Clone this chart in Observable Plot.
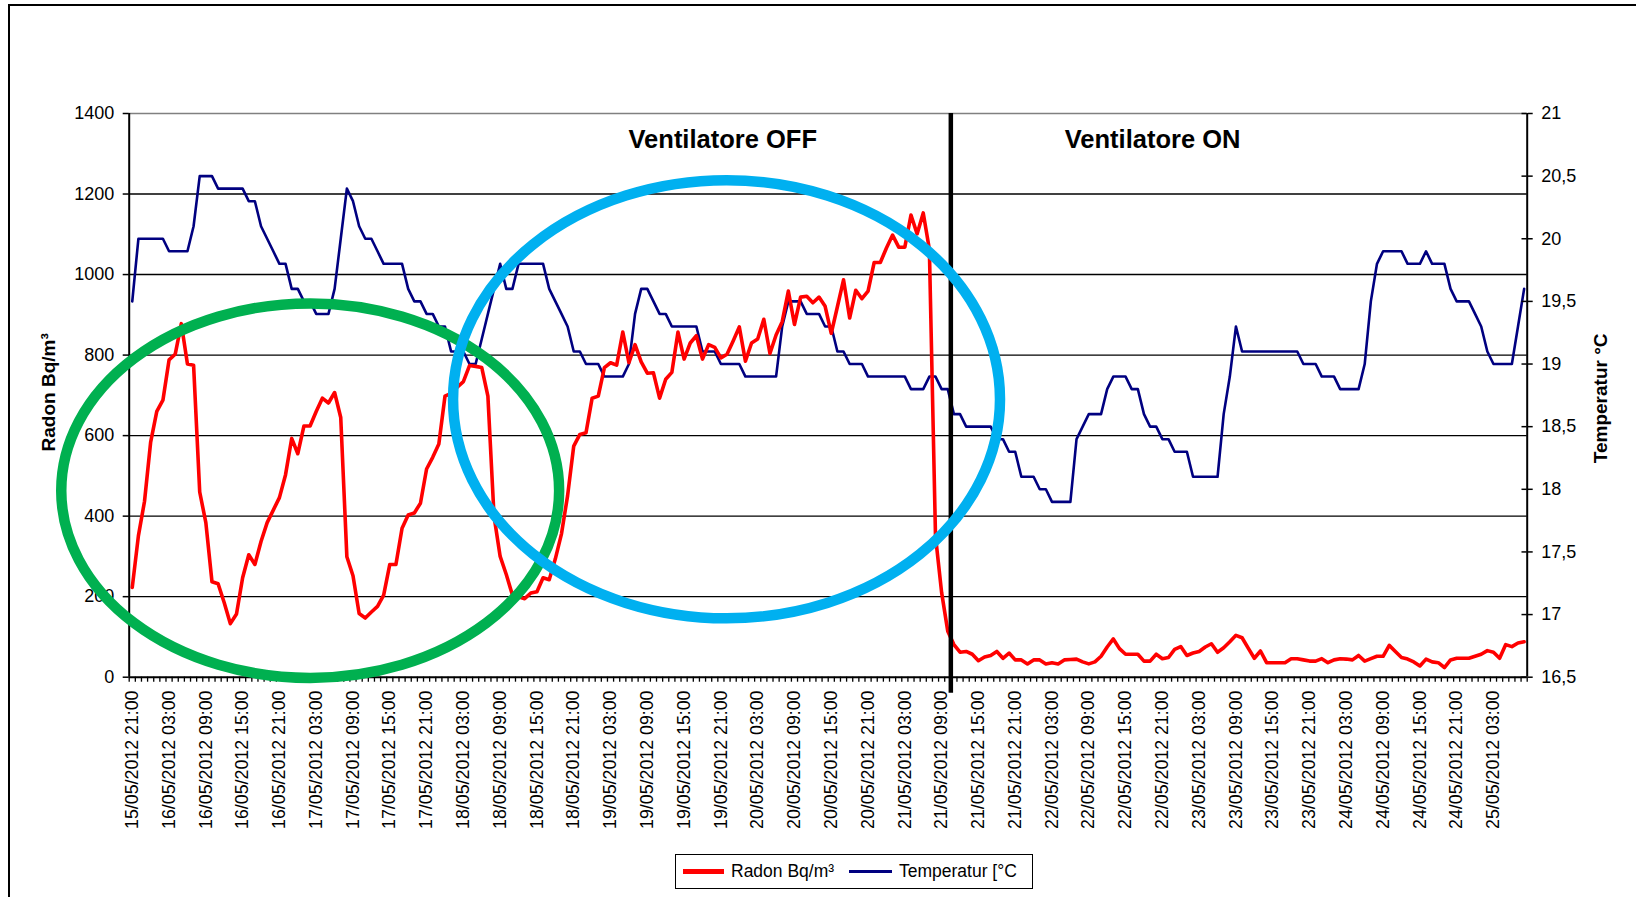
<!DOCTYPE html>
<html>
<head>
<meta charset="utf-8">
<script src="https://cdn.jsdelivr.net/npm/d3@7"></script>
<script src="https://cdn.jsdelivr.net/npm/@observablehq/plot@0.6"></script>
<style>
  html, body { margin: 0; padding: 0; background: #fff; overflow: hidden; }
  #wrap { position: relative; width: 1636px; height: 897px; overflow: hidden; font-family: "Liberation Sans", Arial, sans-serif; }
  #frame { position: absolute; left: 8px; top: 4px; width: 2000px; height: 2000px; border: 2px solid #000; }
  #chart { position: absolute; left: 0; top: 0; }
  #legend { position: absolute; left: 675px; top: 854px; width: 356px; height: 33px; border: 1.5px solid #000; background: #fff; font-size: 17.5px; }
  #legend .sw { position: absolute; }
  #legend .lb { position: absolute; top: 50%; transform: translateY(-52%); white-space: nowrap; color: #000; }
</style>
</head>
<body>
<div id="wrap">
  <div id="frame"></div>
  <div id="chart"></div>
  <div id="legend"></div>
</div>
<script>
// ---------- data (hourly readings, first = 15/05/2012 21:00) ----------
const radon = [
  223,351,437,584,660,688,788,802,878,778,
  775,460,384,237,232,185,133,157,247,304,
  280,337,384,415,446,503,593,555,624,624,
  660,693,681,707,645,299,252,158,147,162,
  176,204,280,280,370,403,408,432,517,546,
  579,698,705,720,734,774,772,769,698,400,
  300,255,204,200,195,209,212,247,242,294,
  356,451,574,603,607,693,698,769,781,775,
  857,781,826,783,755,756,693,740,757,857,
  790,830,848,790,826,819,793,802,835,870,
  785,830,840,889,804,850,883,959,876,944,
  946,930,944,921,854,920,987,892,961,940,
  959,1030,1030,1066,1098,1068,1068,1148,1101,1153,
  1063,350,210,114,81,62,64,57,41,50,
  54,64,47,60,43,43,33,43,43,33,
  36,33,43,44,45,38,33,38,52,75,
  95,71,57,57,57,40,40,57,46,49,
  69,76,54,60,64,75,83,62,73,88,
  104,98,72,47,65,36,36,36,36,46,
  46,43,40,40,46,36,43,46,45,43,
  54,40,46,52,52,79,64,49,45,38,
  28,45,38,36,24,43,47,47,47,52,
  57,66,62,47,81,76,85,88
];
const temperature = [
  19.5,20.0,20.0,20.0,20.0,20.0,19.9,19.9,19.9,19.9,
  20.1,20.5,20.5,20.5,20.4,20.4,20.4,20.4,20.4,20.3,
  20.3,20.1,20.0,19.9,19.8,19.8,19.6,19.6,19.5,19.5,
  19.4,19.4,19.4,19.6,20.0,20.4,20.3,20.1,20.0,20.0,
  19.9,19.8,19.8,19.8,19.8,19.6,19.5,19.5,19.4,19.4,
  19.3,19.3,19.1,19.1,19.1,19.0,19.0,19.2,19.4,19.6,
  19.8,19.6,19.6,19.8,19.8,19.8,19.8,19.8,19.6,19.5,
  19.4,19.3,19.1,19.1,19.0,19.0,19.0,18.9,18.9,18.9,
  18.9,19.0,19.4,19.6,19.6,19.5,19.4,19.4,19.3,19.3,
  19.3,19.3,19.3,19.1,19.1,19.1,19.0,19.0,19.0,19.0,
  18.9,18.9,18.9,18.9,18.9,18.9,19.3,19.5,19.5,19.5,
  19.4,19.4,19.4,19.3,19.3,19.1,19.1,19.0,19.0,19.0,
  18.9,18.9,18.9,18.9,18.9,18.9,18.9,18.8,18.8,18.8,
  18.9,18.9,18.8,18.8,18.6,18.6,18.5,18.5,18.5,18.5,
  18.5,18.4,18.4,18.3,18.3,18.1,18.1,18.1,18.0,18.0,
  17.9,17.9,17.9,17.9,18.4,18.5,18.6,18.6,18.6,18.8,
  18.9,18.9,18.9,18.8,18.8,18.6,18.5,18.5,18.4,18.4,
  18.3,18.3,18.3,18.1,18.1,18.1,18.1,18.1,18.6,18.9,
  19.3,19.1,19.1,19.1,19.1,19.1,19.1,19.1,19.1,19.1,
  19.1,19.0,19.0,19.0,18.9,18.9,18.9,18.8,18.8,18.8,
  18.8,19.0,19.5,19.8,19.9,19.9,19.9,19.9,19.8,19.8,
  19.8,19.9,19.8,19.8,19.8,19.6,19.5,19.5,19.5,19.4,
  19.3,19.1,19.0,19.0,19.0,19.0,19.3,19.6
];
const seriesNames = ["Radon Bq/m³", "Temperatur [°C"];
const axisTitles = ["Radon Bq/m³", "Temperatur °C"];
const labelEvery = 6; // one label every 6 hourly categories
const tickLabels = [
  "15/05/2012 21:00",
  "16/05/2012 03:00","16/05/2012 09:00","16/05/2012 15:00","16/05/2012 21:00",
  "17/05/2012 03:00","17/05/2012 09:00","17/05/2012 15:00","17/05/2012 21:00",
  "18/05/2012 03:00","18/05/2012 09:00","18/05/2012 15:00","18/05/2012 21:00",
  "19/05/2012 03:00","19/05/2012 09:00","19/05/2012 15:00","19/05/2012 21:00",
  "20/05/2012 03:00","20/05/2012 09:00","20/05/2012 15:00","20/05/2012 21:00",
  "21/05/2012 03:00","21/05/2012 09:00","21/05/2012 15:00","21/05/2012 21:00",
  "22/05/2012 03:00","22/05/2012 09:00","22/05/2012 15:00","22/05/2012 21:00",
  "23/05/2012 03:00","23/05/2012 09:00","23/05/2012 15:00","23/05/2012 21:00",
  "24/05/2012 03:00","24/05/2012 09:00","24/05/2012 15:00","24/05/2012 21:00",
  "25/05/2012 03:00"
];
const radonTicks = [0, 200, 400, 600, 800, 1000, 1200, 1400];
const tempTicks = [16.5, 17, 17.5, 18, 18.5, 19, 19.5, 20, 20.5, 21];
const tempTickLabels = ["16,5","17","17,5","18","18,5","19","19,5","20","20,5","21"];
const fanSwitch = [133.5]; // between 21/05 10:00 and 11:00
const phaseLabels = [
  {label: "Ventilatore OFF", x: 96.3, y: 1335},
  {label: "Ventilatore ON", x: 166.4, y: 1335}
];
const ellipses = [
  {name: "green", cx: 29.1, cy: 462, rx: 40.6, ry: 465},
  {name: "cyan", cx: 97.0, cy: 689, rx: 44.6, ry: 544}
];
const ellipseColors = {green: "#00b050", cyan: "#00b0f0"};

// ---------- chart ----------
const N = radon.length;
const rows = radon.map((r, i) => ({i, radon: r, temp: temperature[i]}));
const tMin = tempTicks[0], tMax = tempTicks[tempTicks.length - 1];
const rMax = radonTicks[radonTicks.length - 1];
const toLeft = t => (t - tMin) / (tMax - tMin) * rMax;
const boundaries = d3.range(N + 1).map(k => k - 0.5);
const font = '"Liberation Sans", Arial, sans-serif';

const chart = Plot.plot({
  width: 1636,
  height: 850,
  marginLeft: 128.7,
  marginRight: 109.3,
  marginTop: 113,
  marginBottom: 173.3,
  x: {domain: [-0.5, N - 0.5], axis: null},
  y: {domain: [0, rMax], axis: null},
  style: {fontFamily: font, background: "transparent", overflow: "visible", color: "#000"},
  marks: [
    Plot.ruleY(radonTicks.filter(v => v > 0 && v < rMax), {stroke: "#000", strokeWidth: 1.4}),
    Plot.ruleY([rMax], {stroke: "#808080", strokeWidth: 1.6}),
    Plot.line(rows, {x: "i", y: d => toLeft(d.temp), stroke: "#000080", strokeWidth: 2.6}),
    Plot.line(rows, {x: "i", y: "radon", stroke: "#ff0000", strokeWidth: 3.6}),
    Plot.ruleX([-0.5], {stroke: "#000", strokeWidth: 2}),
    Plot.ruleX([N - 0.5], {stroke: "#000", strokeWidth: 2}),
    Plot.ruleY([0], {stroke: "#000", strokeWidth: 2}),
    Plot.ruleX(fanSwitch, {y1: -40, y2: rMax, stroke: "#000", strokeWidth: 4.5}),
    Plot.axisY({anchor: "left", ticks: radonTicks, tickSize: 6, tickPadding: 9, fontSize: 18, label: null,
      tickFormat: d => String(d), strokeWidth: 1.5}),
    Plot.axisY({anchor: "right", ticks: tempTicks.map(toLeft), tickSize: 5, tickPadding: 9, fontSize: 18, label: null,
      strokeWidth: 1.5,
      tickFormat: v => tempTickLabels[tempTicks.findIndex(t => Math.abs(toLeft(t) - v) < 1e-6)]}),
    Plot.ruleY(tempTicks.map(toLeft), {x1: N - 0.5 - 0.85, x2: N - 0.5, stroke: "#000", strokeWidth: 1.5}),
    Plot.axisX({anchor: "bottom", ticks: boundaries, tickSize: 5, tickFormat: () => "", label: null, strokeWidth: 1.3}),
    Plot.text(tickLabels, {x: (d, k) => k * labelEvery, frameAnchor: "bottom", dy: 13.3, rotate: -90,
      textAnchor: "end", lineAnchor: "middle", fontSize: 17.8, fill: "#000"}),
    Plot.text([axisTitles[0]], {frameAnchor: "left", dx: -80.7, dy: -3, rotate: -90, textAnchor: "middle",
      lineAnchor: "middle", fontWeight: "bold", fontSize: 19, fill: "#000"}),
    Plot.text([axisTitles[1]], {frameAnchor: "right", dx: 73.3, dy: 3, rotate: -90, textAnchor: "middle",
      lineAnchor: "middle", fontWeight: "bold", fontSize: 19, fill: "#000"}),
    Plot.text(phaseLabels, {x: "x", y: "y", text: "label", fontWeight: "bold", fontSize: 25.5, fill: "#000"})
  ]
});

// annotation ellipses drawn with the plot's own scales
const sx = chart.scale("x"), sy = chart.scale("y");
const svg = d3.select(chart);
for (const e of ellipses) {
  svg.append("ellipse")
    .attr("cx", sx.apply(e.cx))
    .attr("cy", sy.apply(e.cy))
    .attr("rx", sx.apply(e.cx + e.rx) - sx.apply(e.cx))
    .attr("ry", sy.apply(e.cy) - sy.apply(e.cy + e.ry))
    .attr("fill", "none")
    .attr("stroke", ellipseColors[e.name])
    .attr("stroke-width", 10.5);
}
document.getElementById("chart").appendChild(chart);

// legend
const lg = document.getElementById("legend");
const legendSpec = [
  {name: seriesNames[0], color: "#ff0000", swLeft: 7, swW: 41, swH: 5, txt: 55},
  {name: seriesNames[1], color: "#000080", swLeft: 173, swW: 43, swH: 3, txt: 223}
];
for (const s of legendSpec) {
  const sw = document.createElement("div");
  sw.className = "sw";
  sw.style.left = s.swLeft + "px";
  sw.style.width = s.swW + "px";
  sw.style.height = s.swH + "px";
  sw.style.top = (16.5 - s.swH / 2) + "px";
  sw.style.background = s.color;
  lg.appendChild(sw);
  const t = document.createElement("div");
  t.className = "lb";
  t.style.left = s.txt + "px";
  t.textContent = s.name;
  lg.appendChild(t);
}
</script>
</body>
</html>
